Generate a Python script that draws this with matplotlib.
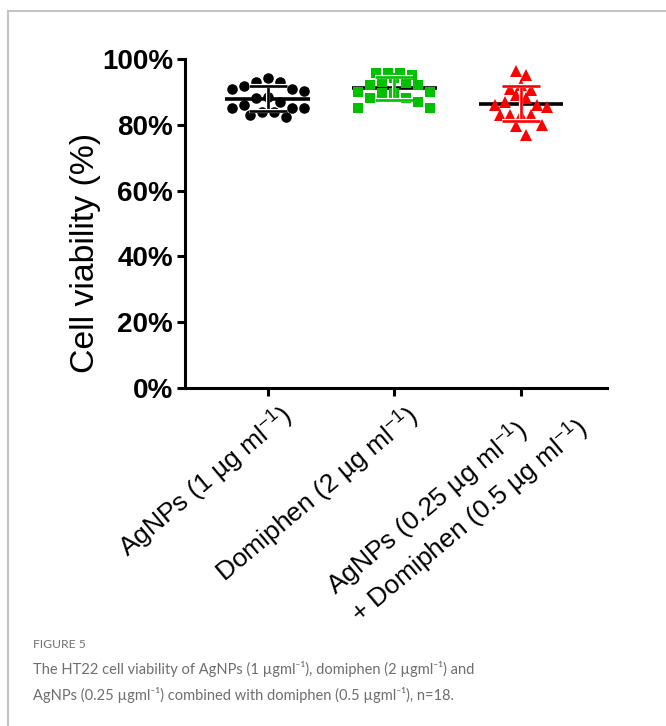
import numpy as np
import matplotlib
matplotlib.use("Agg")
import matplotlib.pyplot as plt
import matplotlib.patheffects as pe
import matplotlib.transforms as mtransforms
from matplotlib.lines import Line2D

# ---------------- data ----------------
categories = [
    r"AgNPs (1 µg ml$^{-1}$)",
    r"Domiphen (2 µg ml$^{-1}$)",
    "AgNPs (0.25 µg ml$^{-1}$)\n+ Domiphen (0.5 µg ml$^{-1}$)",
]
agnps = [94.1, 93.1, 93.1, 91.9, 90.9, 90.9, 90.3, 88.5, 88.1,
         86.8, 86.0, 85.2, 85.0, 85.0, 84.0, 84.0, 83.0, 82.5]
domiphen = [95.8, 95.8, 95.8, 95.1, 94.1, 93.1, 92.6, 92.1, 92.1,
            90.1, 90.1, 89.6, 89.6, 88.1, 88.1, 87.0, 85.0, 85.0]
combo = [96.5, 95.0, 92.0, 91.0, 90.5, 89.0, 88.0, 87.0, 86.0,
         86.0, 85.5, 83.0, 83.0, 83.0, 83.0, 80.0, 79.5, 77.0]
yticks = [0, 20, 40, 60, 80, 100]
ytick_labels = ["0%", "20%", "40%", "60%", "80%", "100%"]
ylabel = "Cell viability (%)"
caption_head = "FIGURE 5"
caption_body = ("The HT22 cell viability of AgNPs (1 µgml⁻¹), domiphen (2 µgml⁻¹) and\n"
                "AgNPs (0.25 µgml⁻¹) combined with domiphen (0.5 µgml⁻¹), n=18.")

groups = [agnps, domiphen, combo]
colors = ["#000000", "#00c000", "#ff0000"]
markers = ["o", "s", "^"]
msizes = [7.6, 7.4, 9.0]
spacing = [12.0, 12.0, 10.5]   # px between neighbours in a row
bin_pct = 5.0

plt.rcParams["mathtext.fontset"] = "custom"
plt.rcParams["mathtext.rm"] = "Liberation Sans"
plt.rcParams["mathtext.it"] = "Liberation Sans:italic"
plt.rcParams["mathtext.bf"] = "Liberation Sans:bold"

cap_family = ["Lato", "Noto Sans", "DejaVu Sans"]

W, H = 666, 726
fig = plt.figure(figsize=(W / 100, H / 100), dpi=100)

fig.add_artist(Line2D([8 / W, 1], [1 - 11 / H, 1 - 11 / H], color="#c4c4c4", lw=1.5))
fig.add_artist(Line2D([8 / W, 8 / W], [0, 1 - 11 / H], color="#c4c4c4", lw=1.5))

ax_l, ax_r, ax_t, ax_b = 185, 607, 59, 388
ax = fig.add_axes([ax_l / W, 1 - ax_b / H, (ax_r - ax_l) / W, (ax_b - ax_t) / H])
xlim = (-0.655, 2.68)
ax.set_xlim(*xlim)
ax.set_ylim(0, 100)

px_per_x = (ax_r - ax_l) / (xlim[1] - xlim[0])


def binned_spread(vals, sp):
    vals = np.asarray(vals)
    xs = np.zeros(len(vals))
    bins = np.floor(vals / bin_pct).astype(int)
    for b in np.unique(bins):
        idx = np.where(bins == b)[0]
        idx = idx[np.argsort(-vals[idx])]
        n = len(idx)
        slots = np.arange(n) - (n - 1) / 2.0
        order = sorted(range(n), key=lambda k: (abs(slots[k]), slots[k]))
        for j, k in zip(idx, order):
            xs[j] = slots[k] * sp
    return xs / px_per_x


for gi, vals in enumerate(groups):
    vals = np.array(vals)
    m = vals.mean()
    sd = vals.std(ddof=1)
    ax.plot([gi - 0.335, gi + 0.335], [m, m], color="black", lw=2.6, zorder=2,
            solid_capstyle="butt")
    offs = binned_spread(vals, spacing[gi])
    ax.plot(gi + offs, vals, linestyle="none", marker=markers[gi], ms=msizes[gi],
            mfc=colors[gi], mec=colors[gi], mew=0, zorder=3, clip_on=False)
    cw = 0.15
    stroke = [pe.Stroke(linewidth=3.0, foreground="white"), pe.Normal()]
    for seg in ([[gi, gi], [m - sd, m + sd]],
                [[gi - cw, gi + cw], [m + sd, m + sd]],
                [[gi - cw, gi + cw], [m - sd, m - sd]]):
        ax.plot(seg[0], seg[1], color=colors[gi], lw=1.9, zorder=4,
                solid_capstyle="butt", path_effects=stroke)

for s in ["top", "right"]:
    ax.spines[s].set_visible(False)
for s in ["left", "bottom"]:
    ax.spines[s].set_linewidth(2.2)
    ax.spines[s].set_capstyle("projecting")

ax.set_yticks(yticks)
ax.set_yticklabels(ytick_labels, fontfamily="Liberation Sans", fontweight="bold", fontsize=20)
ax.tick_params(axis="both", direction="out", length=5.5, width=2.2, color="black")
ax.tick_params(axis="y", pad=3)

ax.set_xticks(range(len(categories)))
ax.set_xticklabels(categories, rotation=40, ha="right", va="top", rotation_mode="anchor",
                   fontfamily="Liberation Sans", fontsize=19, multialignment="left",
                   linespacing=1.2)
for i, lbl in enumerate(ax.get_xticklabels()):
    dx, dy = 0.1, 0.0
    if "\n" in categories[i]:
        dx, dy = 0.1 + 0.19, 0.16
    lbl.set_transform(lbl.get_transform() + mtransforms.ScaledTranslation(dx, dy, fig.dpi_scale_trans))

ax.set_ylabel(ylabel, fontfamily="Liberation Sans", fontsize=24.3)
ax.yaxis.set_label_coords(-0.198, 0.41)

fig.text(33 / W, 1 - 645 / H, caption_head, color="#707070", fontsize=8.7,
         fontfamily=cap_family, va="center", ha="left")
fig.text(33 / W, 1 - 682 / H, caption_body, color="#6e6e6e", fontsize=10.5,
         fontfamily=cap_family, va="center", ha="left", linespacing=1.72)

fig.savefig("out.png", dpi=100, facecolor="white")
